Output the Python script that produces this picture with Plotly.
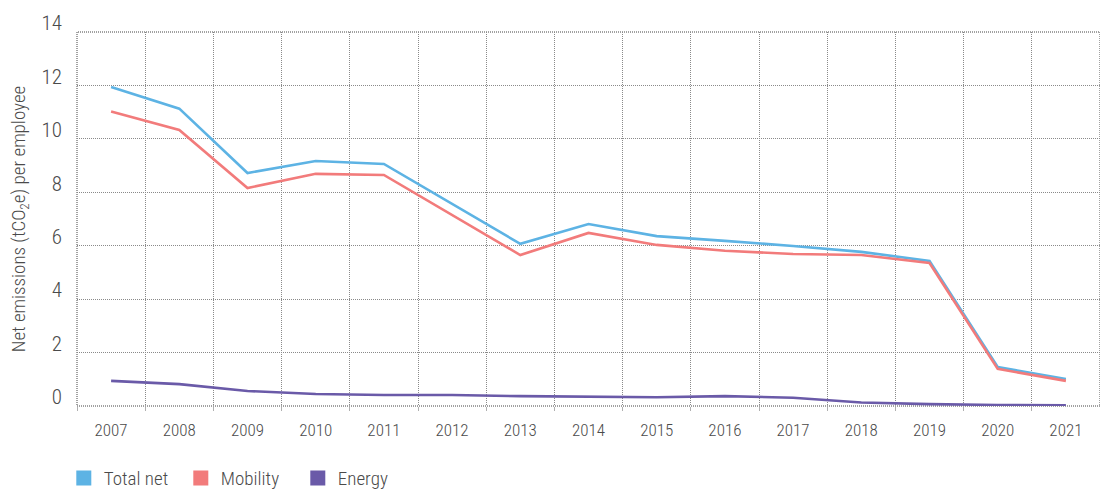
import plotly.graph_objects as go

years = ["2007", "2008", "2009", "2010", "2011", "2012", "2013", "2014",
         "2015", "2016", "2017", "2018", "2019", "2020", "2021"]
total_net = [11.94, 11.13, 8.72, 9.17, 9.06, 7.56, 6.07, 6.81, 6.36, 6.18, 5.99, 5.77, 5.43, 1.46, 1.01]
mobility = [11.02, 10.33, 8.16, 8.69, 8.65, 7.15, 5.65, 6.48, 6.03, 5.81, 5.69, 5.65, 5.35, 1.39, 0.94]
energy = [0.94, 0.82, 0.56, 0.45, 0.41, 0.41, 0.37, 0.34, 0.33, 0.37, 0.31, 0.13, 0.07, 0.04, 0.03]
y_ticks = [0, 2, 4, 6, 8, 10, 12, 14]

names = ["Total net", "Mobility", "Energy"]
colors = ["#5db3e4", "#f27b7b", "#6a5aa8"]
series = [total_net, mobility, energy]

FONT = "Roboto Condensed, Liberation Sans Narrow, sans-serif"
TXT = "#4a4a4a"
GRID = "#8a8a8a"
BORDER = "#444444"
DOT = "1px,1px"

fig = go.Figure()
for name, vals, col in zip(names, series, colors):
    fig.add_trace(go.Scatter(x=years, y=vals, mode="lines", name=name,
                             line=dict(color=col, width=2.6), showlegend=False))
for name, col in zip(names, colors):
    fig.add_trace(go.Scatter(x=[None], y=[None], mode="markers", name=name,
                             marker=dict(symbol="square", size=15, color=col),
                             showlegend=True))

fig.update_layout(
    width=1100, height=492,
    margin=dict(l=77, r=0, t=32, b=86, autoexpand=False),
    plot_bgcolor="white", paper_bgcolor="white",
    font=dict(family=FONT, size=16, color=TXT, weight=300),
    showlegend=True,
    legend=dict(orientation="h", x=0.058, xref="container", xanchor="left",
                y=0.028, yref="container", yanchor="middle",
                font=dict(size=19, color=TXT, weight=300),
                traceorder="normal", itemwidth=30,
                entrywidth=72, entrywidthmode="pixels"),
    xaxis=dict(type="category", tickson="boundaries", showgrid=True,
               gridcolor=GRID, griddash=DOT, gridwidth=1,
               showline=False, zeroline=False, automargin=False,
               ticks="outside", ticklen=4, tickwidth=1, tickcolor="#b0b0b0",
               ticklabelstandoff=12, range=[-0.5, 14.5],
               tickfont=dict(size=17, color=TXT, weight=300)),
    yaxis=dict(range=[0, 14], tickvals=y_ticks, showgrid=True,
               gridcolor=GRID, griddash=DOT, gridwidth=1, automargin=False,
               zeroline=False, showline=False, ticks="",
               ticklabelstandoff=14, ticklabelshift=-9,
               tickfont=dict(size=21, color=TXT, weight=300),
               title=dict(text="Net emissions (tCO<sub>2</sub>e) per employee",
                          font=dict(size=19, color=TXT, weight=300), standoff=10)),
)
fig.add_shape(type="rect", xref="paper", yref="paper", x0=0, x1=1, y0=0, y1=1,
              line=dict(color=BORDER, width=1, dash=DOT), layer="below")

fig.write_html("out.html", config={"displayModeBar": False},
               post_script="document.body.style.margin='0';")
